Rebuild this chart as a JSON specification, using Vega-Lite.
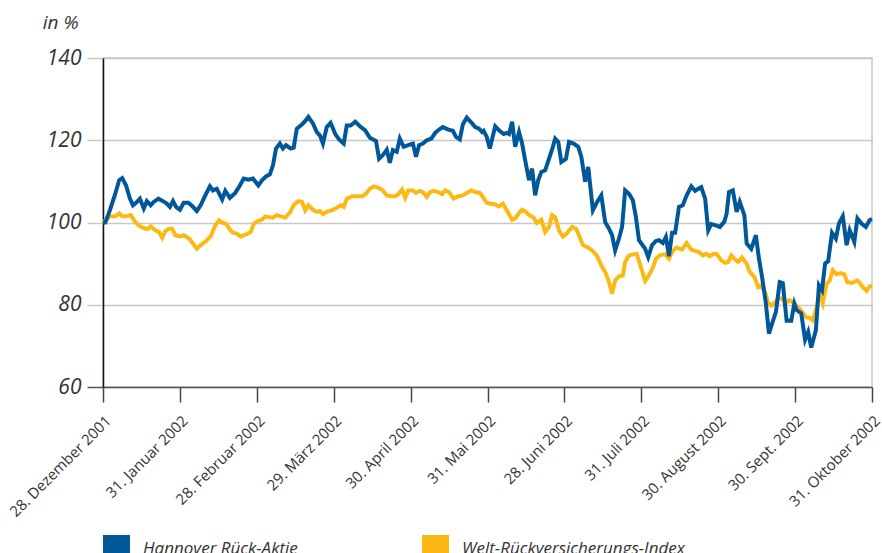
{
  "$schema": "https://vega.github.io/schema/vega-lite/v6.json",
  "width": 769,
  "height": 329,
  "autosize": {"type": "none"},
  "padding": {"left": 103, "top": 58, "right": 10, "bottom": 166},
  "background": "white",
  "config": {"view": {"stroke": "#c8c8c8", "strokeWidth": 1.5}, "font": "Open Sans"},
  "datasets": {
    "hannover": [
      {"t":0,"v":100},{"t":0.03,"v":100},{"t":0.09,"v":103},{"t":0.16,"v":107},{"t":0.21,"v":110.3},{"t":0.25,"v":110.8},{"t":0.30,"v":109},{"t":0.35,"v":105.8},{"t":0.39,"v":104.2},{"t":0.43,"v":104.8},{"t":0.48,"v":105.8},{"t":0.53,"v":103.4},{"t":0.57,"v":105.2},{"t":0.62,"v":104.2},{"t":0.66,"v":105},{"t":0.72,"v":105.8},{"t":0.78,"v":105.2},{"t":0.83,"v":104.6},{"t":0.87,"v":103.8},{"t":0.91,"v":105.2},{"t":0.95,"v":103.8},{"t":1.00,"v":103.1},{"t":1.05,"v":104.8},{"t":1.11,"v":104.8},{"t":1.16,"v":104},{"t":1.22,"v":102.8},{"t":1.27,"v":104.2},{"t":1.33,"v":106.6},{"t":1.39,"v":108.8},{"t":1.43,"v":107.8},{"t":1.48,"v":108.2},{"t":1.55,"v":105.6},{"t":1.59,"v":107.7},{"t":1.65,"v":106},{"t":1.72,"v":107.2},{"t":1.78,"v":109},{"t":1.83,"v":110.7},{"t":1.89,"v":110.4},{"t":1.95,"v":110.7},{"t":2.02,"v":109},{"t":2.07,"v":110.3},{"t":2.12,"v":111.2},{"t":2.17,"v":111.7},{"t":2.21,"v":113.9},{"t":2.25,"v":118},{"t":2.30,"v":119.2},{"t":2.34,"v":118},{"t":2.38,"v":118.8},{"t":2.44,"v":118},{"t":2.48,"v":118.2},{"t":2.52,"v":122.8},{"t":2.59,"v":123.9},{"t":2.63,"v":124.7},{"t":2.67,"v":125.7},{"t":2.73,"v":124.1},{"t":2.78,"v":122},{"t":2.82,"v":121.2},{"t":2.86,"v":119.2},{"t":2.91,"v":123.2},{"t":2.96,"v":124.2},{"t":3.02,"v":121.5},{"t":3.07,"v":120.2},{"t":3.13,"v":119.2},{"t":3.17,"v":123.6},{"t":3.22,"v":123.6},{"t":3.28,"v":124.5},{"t":3.34,"v":123.4},{"t":3.41,"v":122.4},{"t":3.47,"v":120.6},{"t":3.55,"v":119.8},{"t":3.59,"v":115.5},{"t":3.64,"v":116.4},{"t":3.69,"v":117.7},{"t":3.73,"v":114.5},{"t":3.77,"v":117.6},{"t":3.82,"v":117.2},{"t":3.86,"v":120.4},{"t":3.91,"v":118.4},{"t":3.97,"v":118.8},{"t":4.03,"v":119.2},{"t":4.07,"v":116},{"t":4.11,"v":118.8},{"t":4.16,"v":119.2},{"t":4.21,"v":120},{"t":4.27,"v":120.4},{"t":4.32,"v":121.8},{"t":4.37,"v":122.6},{"t":4.42,"v":123.2},{"t":4.49,"v":122.6},{"t":4.55,"v":122.3},{"t":4.59,"v":120.8},{"t":4.64,"v":120.2},{"t":4.68,"v":123.9},{"t":4.73,"v":125.5},{"t":4.80,"v":124.1},{"t":4.84,"v":123.2},{"t":4.89,"v":122.8},{"t":4.93,"v":122},{"t":4.95,"v":122.3},{"t":4.99,"v":120.8},{"t":5.03,"v":118},{"t":5.10,"v":123.4},{"t":5.15,"v":122.4},{"t":5.21,"v":121.5},{"t":5.25,"v":121.8},{"t":5.28,"v":121.5},{"t":5.32,"v":124.5},{"t":5.36,"v":118.4},{"t":5.41,"v":122},{"t":5.45,"v":119.2},{"t":5.49,"v":115.1},{"t":5.54,"v":110.3},{"t":5.58,"v":113.1},{"t":5.62,"v":106.6},{"t":5.66,"v":110.3},{"t":5.70,"v":112.3},{"t":5.75,"v":112.7},{"t":5.80,"v":115.5},{"t":5.85,"v":118.4},{"t":5.88,"v":120.4},{"t":5.92,"v":119.6},{"t":5.96,"v":114.7},{"t":6.02,"v":115.5},{"t":6.06,"v":119.6},{"t":6.12,"v":119.2},{"t":6.18,"v":118.4},{"t":6.22,"v":116},{"t":6.27,"v":109.9},{"t":6.31,"v":113.5},{"t":6.37,"v":103},{"t":6.42,"v":104.8},{"t":6.48,"v":106.6},{"t":6.53,"v":100.1},{"t":6.58,"v":98.5},{"t":6.62,"v":96.9},{"t":6.66,"v":93.2},{"t":6.71,"v":96.1},{"t":6.75,"v":98.9},{"t":6.79,"v":107.8},{"t":6.84,"v":107},{"t":6.89,"v":105.4},{"t":6.93,"v":101.3},{"t":6.97,"v":95.7},{"t":7.05,"v":93.6},{"t":7.09,"v":91.6},{"t":7.14,"v":94.5},{"t":7.19,"v":95.5},{"t":7.23,"v":95.7},{"t":7.28,"v":95},{"t":7.32,"v":96.5},{"t":7.36,"v":91.8},{"t":7.40,"v":97.5},{"t":7.44,"v":97.5},{"t":7.49,"v":103.8},{"t":7.54,"v":104.2},{"t":7.59,"v":106.6},{"t":7.65,"v":108.8},{"t":7.70,"v":107.7},{"t":7.74,"v":108.2},{"t":7.78,"v":108.6},{"t":7.83,"v":105.8},{"t":7.87,"v":98.1},{"t":7.91,"v":99.6},{"t":7.97,"v":99.3},{"t":8.02,"v":98.9},{"t":8.08,"v":100.2},{"t":8.11,"v":102.2},{"t":8.14,"v":107.4},{"t":8.19,"v":107.8},{"t":8.24,"v":102.6},{"t":8.28,"v":105},{"t":8.34,"v":101.8},{"t":8.37,"v":94.9},{"t":8.43,"v":93.6},{"t":8.49,"v":96.9},{"t":8.53,"v":91.2},{"t":8.57,"v":86.8},{"t":8.62,"v":80.3},{"t":8.66,"v":73},{"t":8.70,"v":75.4},{"t":8.75,"v":78.2},{"t":8.80,"v":85.5},{"t":8.84,"v":85.3},{"t":8.89,"v":76.1},{"t":8.95,"v":76.1},{"t":8.99,"v":80.3},{"t":9.02,"v":78.7},{"t":9.08,"v":77.9},{"t":9.13,"v":71.5},{"t":9.17,"v":73.4},{"t":9.21,"v":69.6},{"t":9.27,"v":73.8},{"t":9.31,"v":84.7},{"t":9.35,"v":83.5},{"t":9.39,"v":90},{"t":9.43,"v":90.6},{"t":9.48,"v":97.5},{"t":9.53,"v":96.1},{"t":9.57,"v":99.8},{"t":9.62,"v":101.5},{"t":9.67,"v":94.5},{"t":9.71,"v":98.1},{"t":9.77,"v":95.3},{"t":9.81,"v":101},{"t":9.86,"v":99.8},{"t":9.92,"v":98.9},{"t":9.97,"v":100.6},{"t":10,"v":100.8}
    ],
    "welt": [
      {"t":0,"v":100},{"t":0.03,"v":100.5},{"t":0.09,"v":101.5},{"t":0.16,"v":101.5},{"t":0.21,"v":102.2},{"t":0.25,"v":101.5},{"t":0.30,"v":101.5},{"t":0.36,"v":101.8},{"t":0.42,"v":100.1},{"t":0.48,"v":99.1},{"t":0.55,"v":98.5},{"t":0.59,"v":98.5},{"t":0.62,"v":99.1},{"t":0.68,"v":98.1},{"t":0.73,"v":97.7},{"t":0.77,"v":96.3},{"t":0.81,"v":97.9},{"t":0.86,"v":98.5},{"t":0.90,"v":98.5},{"t":0.94,"v":96.9},{"t":1.00,"v":96.6},{"t":1.05,"v":96.9},{"t":1.12,"v":96.1},{"t":1.17,"v":94.9},{"t":1.22,"v":93.6},{"t":1.27,"v":94.5},{"t":1.34,"v":95.5},{"t":1.40,"v":96.6},{"t":1.46,"v":99.3},{"t":1.51,"v":100.5},{"t":1.56,"v":99.9},{"t":1.60,"v":99.7},{"t":1.65,"v":98.3},{"t":1.69,"v":97.5},{"t":1.74,"v":97.3},{"t":1.79,"v":96.6},{"t":1.86,"v":97.1},{"t":1.92,"v":97.7},{"t":1.96,"v":99.7},{"t":2.02,"v":100.4},{"t":2.07,"v":100.7},{"t":2.11,"v":101.5},{"t":2.17,"v":101.3},{"t":2.21,"v":101.2},{"t":2.26,"v":101.8},{"t":2.31,"v":101.5},{"t":2.37,"v":101.2},{"t":2.43,"v":102.4},{"t":2.48,"v":104.2},{"t":2.54,"v":105.2},{"t":2.59,"v":105},{"t":2.63,"v":103},{"t":2.67,"v":104.2},{"t":2.73,"v":103.1},{"t":2.78,"v":102.6},{"t":2.82,"v":102.8},{"t":2.86,"v":102},{"t":2.91,"v":102.6},{"t":2.98,"v":103},{"t":3.04,"v":103.6},{"t":3.09,"v":104.2},{"t":3.13,"v":103.8},{"t":3.17,"v":105.8},{"t":3.24,"v":106.4},{"t":3.30,"v":106.4},{"t":3.37,"v":106.4},{"t":3.42,"v":107},{"t":3.47,"v":108.2},{"t":3.52,"v":108.8},{"t":3.58,"v":108.5},{"t":3.64,"v":107.8},{"t":3.69,"v":106.6},{"t":3.75,"v":106.4},{"t":3.80,"v":106.4},{"t":3.84,"v":106.9},{"t":3.89,"v":108},{"t":3.93,"v":106},{"t":3.97,"v":107.8},{"t":4.03,"v":107.8},{"t":4.07,"v":107.2},{"t":4.12,"v":107.7},{"t":4.16,"v":107.4},{"t":4.21,"v":106.2},{"t":4.25,"v":107.4},{"t":4.30,"v":107.7},{"t":4.36,"v":107.4},{"t":4.41,"v":106.9},{"t":4.45,"v":107.8},{"t":4.50,"v":107.4},{"t":4.56,"v":105.8},{"t":4.62,"v":106.4},{"t":4.68,"v":106.6},{"t":4.73,"v":107.2},{"t":4.79,"v":107.8},{"t":4.84,"v":107.4},{"t":4.90,"v":107.2},{"t":4.94,"v":106.2},{"t":4.99,"v":104.8},{"t":5.03,"v":104.6},{"t":5.10,"v":104.4},{"t":5.15,"v":103.9},{"t":5.20,"v":104.6},{"t":5.25,"v":103},{"t":5.32,"v":100.7},{"t":5.36,"v":101},{"t":5.41,"v":102.3},{"t":5.45,"v":103.1},{"t":5.50,"v":102.6},{"t":5.54,"v":101.8},{"t":5.60,"v":101.2},{"t":5.64,"v":99.9},{"t":5.70,"v":100.7},{"t":5.75,"v":97.7},{"t":5.80,"v":98.9},{"t":5.84,"v":101.8},{"t":5.88,"v":101.3},{"t":5.93,"v":98.1},{"t":5.98,"v":96.6},{"t":6.03,"v":97.3},{"t":6.10,"v":98.9},{"t":6.15,"v":98.5},{"t":6.19,"v":96.9},{"t":6.24,"v":94.5},{"t":6.31,"v":93.9},{"t":6.36,"v":93.2},{"t":6.42,"v":92},{"t":6.48,"v":89.6},{"t":6.54,"v":87.6},{"t":6.58,"v":85.5},{"t":6.62,"v":82.7},{"t":6.66,"v":85.9},{"t":6.71,"v":86.9},{"t":6.76,"v":87.1},{"t":6.79,"v":90.4},{"t":6.84,"v":92},{"t":6.91,"v":92.3},{"t":6.94,"v":92.4},{"t":6.98,"v":90},{"t":7.05,"v":85.8},{"t":7.10,"v":87.2},{"t":7.15,"v":89},{"t":7.19,"v":91.2},{"t":7.24,"v":92},{"t":7.31,"v":92.3},{"t":7.36,"v":91.2},{"t":7.41,"v":93.1},{"t":7.46,"v":93.9},{"t":7.53,"v":93.4},{"t":7.59,"v":95},{"t":7.65,"v":93.4},{"t":7.70,"v":93.1},{"t":7.75,"v":92.8},{"t":7.80,"v":92},{"t":7.85,"v":92.4},{"t":7.89,"v":91.8},{"t":7.94,"v":92.4},{"t":7.98,"v":92.3},{"t":8.04,"v":90.8},{"t":8.09,"v":90.2},{"t":8.13,"v":90.4},{"t":8.17,"v":92},{"t":8.21,"v":91.2},{"t":8.26,"v":90.4},{"t":8.31,"v":91.5},{"t":8.37,"v":90},{"t":8.41,"v":88},{"t":8.47,"v":86.8},{"t":8.52,"v":84.3},{"t":8.56,"v":84.7},{"t":8.61,"v":83.1},{"t":8.65,"v":80.4},{"t":8.69,"v":79.8},{"t":8.74,"v":80.6},{"t":8.78,"v":81.5},{"t":8.83,"v":81.5},{"t":8.88,"v":80.4},{"t":8.92,"v":81.1},{"t":8.97,"v":80.6},{"t":9.02,"v":79.8},{"t":9.08,"v":78.6},{"t":9.14,"v":77},{"t":9.19,"v":76.8},{"t":9.23,"v":76.2},{"t":9.28,"v":79.4},{"t":9.32,"v":82.7},{"t":9.36,"v":80.4},{"t":9.41,"v":85.1},{"t":9.45,"v":85.9},{"t":9.49,"v":88.4},{"t":9.54,"v":87.4},{"t":9.59,"v":87.7},{"t":9.64,"v":87.4},{"t":9.68,"v":85.5},{"t":9.74,"v":85.3},{"t":9.81,"v":85.9},{"t":9.84,"v":85.3},{"t":9.88,"v":84.3},{"t":9.93,"v":83.4},{"t":9.97,"v":84.5},{"t":10,"v":84.5}
    ]
  },
  "encoding": {
    "x": {
      "field": "t", "type": "quantitative",
      "scale": {"domain": [0, 10], "nice": false, "zero": false},
      "axis": {
        "values": [0,1,2,3,4,5,6,7,8,9,10],
        "labelExpr": "['28. Dezember 2001','31. Januar 2002','28. Februar 2002','29. März 2002','30. April 2002','31. Mai 2002','28. Juni 2002','31. Juli 2002','30. August 2002','30. Sept. 2002','31. Oktober 2002'][datum.value]",
        "labelAngle": -45, "labelFontSize": 15, "labelColor": "#333",
        "labelOverlap": false, "labelFlush": false, "labelPadding": 11, "labelOffset": 0,
        "tickSize": 15, "tickColor": "#444", "tickWidth": 1.5,
        "domainColor": "#555", "domainWidth": 1.5,
        "grid": false, "title": null
      }
    },
    "y": {
      "field": "v", "type": "quantitative",
      "scale": {"domain": [60, 140], "nice": false, "zero": false},
      "axis": {
        "values": [60, 80, 100, 120, 140],
        "grid": true, "gridColor": "#c8c8c8", "gridWidth": 1.5,
        "tickSize": 16, "tickWidth": 1.5,
        "tickColor": {"condition": {"test": "datum.value == 60", "value": "#555"}, "value": "#c8c8c8"},
        "domainColor": "#111", "domainWidth": 1.5,
        "labelFontSize": 21, "labelFontStyle": "italic", "labelColor": "#333", "labelPadding": 6,
        "title": "in %", "titleAngle": 0, "titleFontSize": 19, "titleFontStyle": "italic",
        "titleFontWeight": "normal", "titleColor": "#333",
        "titleX": -25, "titleY": -30, "titleAlign": "right", "titleBaseline": "alphabetic"
      }
    }
  },
  "layer": [
    {
      "data": {"name": "welt"},
      "mark": {"type": "line", "strokeWidth": 4, "strokeJoin": "miter"},
      "encoding": {
        "color": {
          "datum": "Welt-Rückversicherungs-Index", "type": "nominal",
          "scale": {"domain": ["Hannover Rück-Aktie", "Welt-Rückversicherungs-Index"], "range": ["#00589a", "#fdb913"]},
          "legend": {
            "orient": "none", "legendX": 0, "legendY": 477, "direction": "horizontal", "title": null,
            "symbolType": "square", "symbolSize": 729, "symbolStrokeWidth": 0,
            "labelFontSize": 17, "labelFontStyle": "italic", "labelColor": "#333", "labelOffset": 13,
            "columnPadding": 124, "labelLimit": 400,
            "encode": {"symbols": {"update": {"fill": {"scale": "color", "field": "value"}, "fillOpacity": {"value": 1}}}}
          }
        }
      }
    },
    {
      "data": {"name": "hannover"},
      "mark": {"type": "line", "strokeWidth": 4, "strokeJoin": "miter"},
      "encoding": {
        "color": {
          "datum": "Hannover Rück-Aktie", "type": "nominal",
          "scale": {"domain": ["Hannover Rück-Aktie", "Welt-Rückversicherungs-Index"], "range": ["#00589a", "#fdb913"]},
          "legend": {
            "orient": "none", "legendX": 0, "legendY": 477, "direction": "horizontal", "title": null,
            "symbolType": "square", "symbolSize": 729, "symbolStrokeWidth": 0,
            "labelFontSize": 17, "labelFontStyle": "italic", "labelColor": "#333", "labelOffset": 13,
            "columnPadding": 124, "labelLimit": 400,
            "encode": {"symbols": {"update": {"fill": {"scale": "color", "field": "value"}, "fillOpacity": {"value": 1}}}}
          }
        }
      }
    }
  ]
}
